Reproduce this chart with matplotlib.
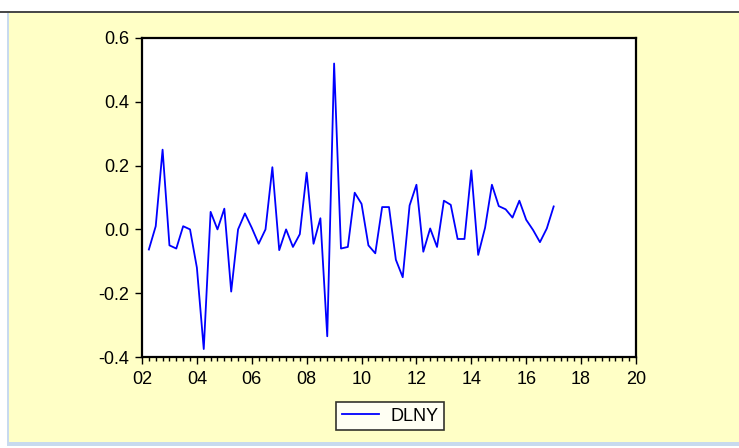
import numpy as np
import pandas as pd
import matplotlib
matplotlib.use("Agg")
import matplotlib.pyplot as plt
from matplotlib.patches import Rectangle
from matplotlib.ticker import MultipleLocator, FixedLocator

# DLNY, quarterly log difference, 2002Q2 - 2017Q1
start_quarter = "2002Q2"
dlny = [
    -0.063, 0.01, 0.25, -0.05, -0.06, 0.01, 0.0, -0.12, -0.375, 0.055,
    0.0, 0.065, -0.195, 0.0, 0.05, 0.005, -0.045, 0.0, 0.195, -0.065,
    0.0, -0.055, -0.015, 0.178, -0.045, 0.035, -0.335, 0.52, -0.06, -0.055,
    0.115, 0.08, -0.05, -0.075, 0.07, 0.07, -0.095, -0.15, 0.075, 0.14,
    -0.07, 0.003, -0.055, 0.09, 0.077, -0.03, -0.03, 0.185, -0.08, 0.005,
    0.14, 0.073, 0.063, 0.037, 0.09, 0.03, -0.002, -0.04, 0.003, 0.072,
]
yticks = [-0.4, -0.2, 0.0, 0.2, 0.4, 0.6]
xticks = list(range(2002, 2021, 2))
xticklabels = ["%02d" % (y % 100) for y in xticks]

quarters = pd.period_range(start_quarter, periods=len(dlny), freq="Q")
t = np.array([p.year + (p.quarter - 1) / 4 for p in quarters])

W, H = 739, 448
fig = plt.figure(figsize=(W / 100, H / 100), dpi=100, facecolor="white")
plt.rcParams["font.family"] = ["Liberation Sans", "DejaVu Sans"]

# window frame: yellow panel with thin borders
def px_rect(x0, y0, x1, y1, color):
    fig.patches.append(Rectangle((x0 / W, 1 - y1 / H), (x1 - x0) / W, (y1 - y0) / H,
                                 transform=fig.transFigure, facecolor=color,
                                 edgecolor="none", zorder=-10))

px_rect(8, 13, W, 442, "#FFFFC6")
px_rect(0, 11, W, 13, "#4a4a4a")
px_rect(7, 13, 9, 442, "#C8DAEE")
px_rect(7, 442, W, 446, "#C8DAEE")

ax = fig.add_axes([142 / W, 1 - 357 / H, (636 - 142) / W, (357 - 38) / H])
ax.set_zorder(5)
ax.set_facecolor("white")
ax.plot(t, dlny, color="#0000FF", lw=1.3, label="DLNY")

ax.set_xlim(2002, 2020)
ax.set_ylim(-0.4, 0.6)
ax.xaxis.set_major_locator(FixedLocator(xticks))
ax.set_xticklabels(xticklabels)
ax.xaxis.set_minor_locator(MultipleLocator(0.25))
ax.set_yticks(yticks)
ax.set_yticklabels(["%.1f" % v for v in yticks])

for s in ax.spines.values():
    s.set_linewidth(1.6)
    s.set_color("black")
ax.tick_params(axis="both", which="major", direction="out", length=5, width=1,
               labelsize=13, colors="black")
ax.tick_params(axis="x", which="major", pad=5)
ax.tick_params(axis="y", which="major", pad=4)
ax.tick_params(axis="x", which="minor", direction="out", length=3, width=1)

leg = ax.legend(loc="center", bbox_to_anchor=(390 / W, 1 - 416 / H),
                bbox_transform=fig.transFigure, frameon=True, fancybox=False,
                edgecolor="black", fontsize=13, handlelength=2.1,
                borderpad=0.3, handletextpad=0.6, borderaxespad=0)
leg.get_frame().set_linewidth(1.2)

fig.savefig("out.png", dpi=100, facecolor=fig.get_facecolor())
